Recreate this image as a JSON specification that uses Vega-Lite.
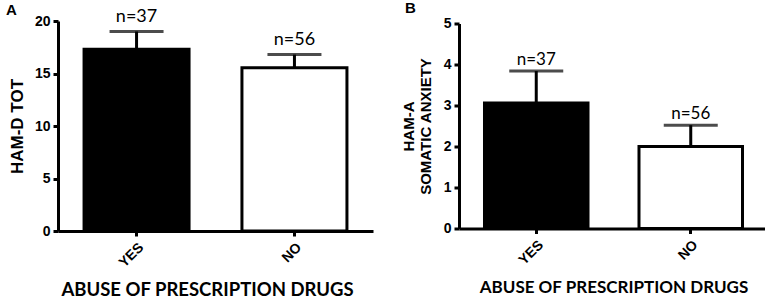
{
  "$schema": "https://vega.github.io/schema/vega-lite/v6.json",
  "background": "white",
  "padding": {"left": 6, "top": 0, "right": 0, "bottom": 0},
  "bounds": "flush",
  "spacing": 86,
  "center": true,
  "config": {
    "view": {"stroke": null},
    "axis": {
      "grid": false,
      "domainColor": "black",
      "domainWidth": 3,
      "tickColor": "black",
      "tickWidth": 3,
      "tickSize": 5,
      "labelFont": "Liberation Sans",
      "labelFontWeight": "bold",
      "labelColor": "black",
      "labelFontSize": 14,
      "titleFont": "Liberation Sans",
      "titleFontWeight": "bold",
      "titleColor": "black"
    },
    "title": {"font": "Liberation Sans", "fontWeight": "bold", "fontSize": 15, "color": "black", "anchor": "start", "frame": "group"}
  },
  "datasets": {
    "hamd": [
      {"group": "YES", "mean": 17.3, "upper": 19.0, "n": "n=37"},
      {"group": "NO", "mean": 15.55, "upper": 16.8, "n": "n=56"}
    ],
    "hama": [
      {"group": "YES", "mean": 3.06, "upper": 3.84, "n": "n=37"},
      {"group": "NO", "mean": 2.0, "upper": 2.52, "n": "n=56"}
    ]
  },
  "hconcat": [
    {
      "width": 315,
      "height": 210,
      "title": {"text": "A", "dx": -52, "offset": -10},
      "data": {"name": "hamd"},
      "encoding": {
        "x": {
          "field": "group", "type": "nominal", "sort": ["YES", "NO"],
          "scale": {"paddingInner": 0.335, "paddingOuter": 0.165},
          "axis": {"labelAngle": -45, "title": "ABUSE OF PRESCRIPTION DRUGS", "titleFont": "Lato", "titleFontSize": 18.5, "titlePadding": 11, "labelPadding": 4, "titleX": 149, "titleAlign": "center"}
        }
      },
      "layer": [
        {
          "mark": {"type": "bar", "stroke": "black", "strokeWidth": 3},
          "encoding": {
            "y": {"field": "mean", "type": "quantitative", "scale": {"domain": [0, 20], "nice": false},
              "axis": {"values": [0, 5, 10, 15, 20], "title": "HAM-D TOT", "titleFontSize": 17, "titlePadding": 8, "labelPadding": 3}},
            "fill": {"field": "group", "type": "nominal", "scale": {"domain": ["YES", "NO"], "range": ["black", "white"]}, "legend": null}
          }
        },
        {
          "mark": {"type": "rule", "color": "black", "strokeWidth": 3},
          "encoding": {"y": {"field": "mean", "type": "quantitative"}, "y2": {"field": "upper"}}
        },
        {
          "mark": {"type": "tick", "color": "black", "thickness": 3, "size": 54},
          "encoding": {"y": {"field": "upper", "type": "quantitative"}}
        },
        {
          "mark": {"type": "text", "font": "Lato", "fontSize": 18, "baseline": "alphabetic", "dy": -10, "color": "black"},
          "encoding": {"y": {"field": "upper", "type": "quantitative"}, "text": {"field": "n"}}
        }
      ]
    },
    {
      "width": 309,
      "height": 205,
      "title": {"text": "B", "dx": -54, "offset": 1},
      "data": {"name": "hama"},
      "encoding": {
        "x": {
          "field": "group", "type": "nominal", "sort": ["YES", "NO"],
          "scale": {"paddingInner": 0.33, "paddingOuter": 0.165},
          "axis": {"labelAngle": -45, "title": "ABUSE OF PRESCRIPTION DRUGS", "titleFont": "Lato", "titleFontSize": 17, "titlePadding": 12, "labelPadding": 4}
        }
      },
      "layer": [
        {
          "mark": {"type": "bar", "stroke": "black", "strokeWidth": 3},
          "encoding": {
            "y": {"field": "mean", "type": "quantitative", "scale": {"domain": [0, 5], "nice": false},
              "axis": {"values": [0, 1, 2, 3, 4, 5], "title": ["HAM-A", "SOMATIC ANXIETY"], "titleFontSize": 15, "titlePadding": 10, "labelPadding": 3}},
            "fill": {"field": "group", "type": "nominal", "scale": {"domain": ["YES", "NO"], "range": ["black", "white"]}, "legend": null}
          }
        },
        {
          "mark": {"type": "rule", "color": "black", "strokeWidth": 3},
          "encoding": {"y": {"field": "mean", "type": "quantitative"}, "y2": {"field": "upper"}}
        },
        {
          "mark": {"type": "tick", "color": "black", "thickness": 3, "size": 54},
          "encoding": {"y": {"field": "upper", "type": "quantitative"}}
        },
        {
          "mark": {"type": "text", "font": "Lato", "fontSize": 17, "baseline": "alphabetic", "dy": -6, "color": "black"},
          "encoding": {"y": {"field": "upper", "type": "quantitative"}, "text": {"field": "n"}}
        }
      ]
    }
  ]
}
